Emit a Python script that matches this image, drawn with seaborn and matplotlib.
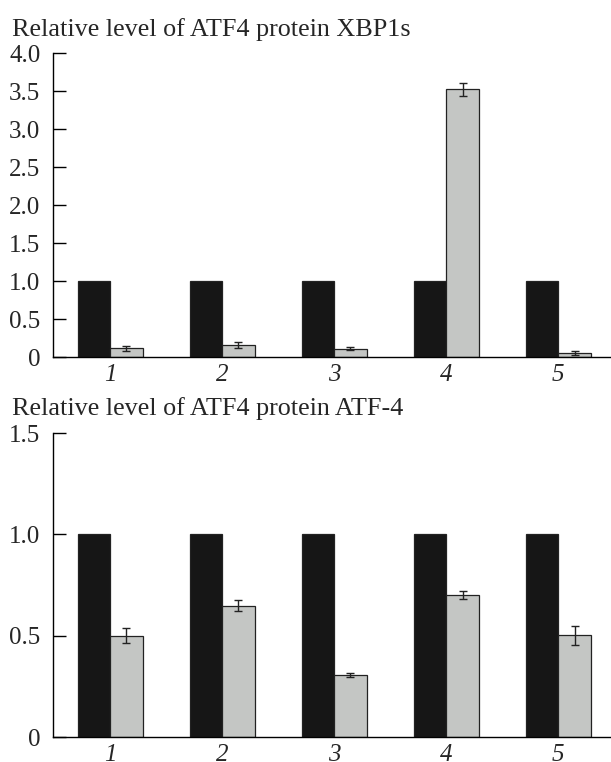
import matplotlib
matplotlib.use("Agg")
import matplotlib.pyplot as plt
import seaborn as sns
import pandas as pd
import numpy as np

groups = ["1", "2", "3", "4", "5"]
control = [1.0, 1.0, 1.0, 1.0, 1.0]
xbp1s_vals = [0.114, 0.158, 0.11, 3.52, 0.053]
xbp1s_err = [0.035, 0.044, 0.018, 0.088, 0.03]
atf4_vals = [0.50, 0.647, 0.307, 0.70, 0.502]
atf4_err = [0.038, 0.027, 0.01, 0.019, 0.048]

title_top = "Relative level of ATF4 protein XBP1s"
title_bot = "Relative level of ATF4 protein ATF-4"
yticks_top = [0, 0.5, 1.0, 1.5, 2.0, 2.5, 3.0, 3.5, 4.0]
ylabels_top = ["0", "0.5", "1.0", "1.5", "2.0", "2.5", "3.0", "3.5", "4.0"]
yticks_bot = [0, 0.5, 1.0, 1.5]
ylabels_bot = ["0", "0.5", "1.0", "1.5"]

sns.set_style("ticks")
plt.rcParams['font.family'] = ['Liberation Serif', 'DejaVu Serif']

FS = 18
FS_TITLE = 18.8
BLACK = "#161616"
GRAY = "#c4c6c4"

fig = plt.figure(figsize=(6.11, 7.62), dpi=100)
ax1 = fig.add_axes([53/611, 1-357/762, 1-53/611, (357-53)/762])
ax2 = fig.add_axes([53/611, 1-737/762, 1-53/611, (737-433)/762])


def draw(ax, vals, errs, yticks, ylabels, ymax):
    df = pd.DataFrame({
        "group": groups * 2,
        "series": ["control"] * len(groups) + ["treated"] * len(groups),
        "value": control + vals,
    })
    sns.barplot(data=df, x="group", y="value", hue="series", order=groups,
                hue_order=["control", "treated"],
                palette={"control": BLACK, "treated": GRAY},
                width=0.58, errorbar=None, ax=ax, legend=False,
                saturation=1, edgecolor="#222222", linewidth=0.9)
    # error bars on treated bars
    patches = sorted([p for p in ax.patches], key=lambda p: p.get_x())
    treated = [p for p in patches if abs(p.get_facecolor()[0] - 0.77) < 0.05]
    xs = [p.get_x() + p.get_width() / 2 for p in treated]
    ax.errorbar(xs, vals, yerr=errs, fmt="none", ecolor="#222222",
                elinewidth=1.0, capsize=3.2, capthick=1.0)
    ax.set_xlim(-0.51, 4.47)
    ax.set_ylim(0, ymax)
    ax.set_yticks(yticks)
    ax.set_yticklabels(ylabels, fontsize=FS)
    ax.set_xticks(range(len(groups)))
    ax.set_xticklabels(groups, fontsize=FS, style="italic")
    ax.set_xlabel("")
    ax.set_ylabel("")
    ax.tick_params(axis="y", direction="in", length=9, width=1, pad=9, color="black")
    ax.tick_params(axis="x", length=0, pad=5)
    for s in ["top", "right"]:
        ax.spines[s].set_visible(False)
    for s in ["left", "bottom"]:
        ax.spines[s].set_color("black")
        ax.spines[s].set_linewidth(1.0)


draw(ax1, xbp1s_vals, xbp1s_err, yticks_top, ylabels_top, 4.0)
draw(ax2, atf4_vals, atf4_err, yticks_bot, ylabels_bot, 1.5)

fig.text(12/611, 1-36/762, title_top, fontsize=FS_TITLE, va="baseline", ha="left")
fig.text(12/611, 1-415/762, title_bot, fontsize=FS_TITLE, va="baseline", ha="left")

fig.savefig("out.png", dpi=100)
